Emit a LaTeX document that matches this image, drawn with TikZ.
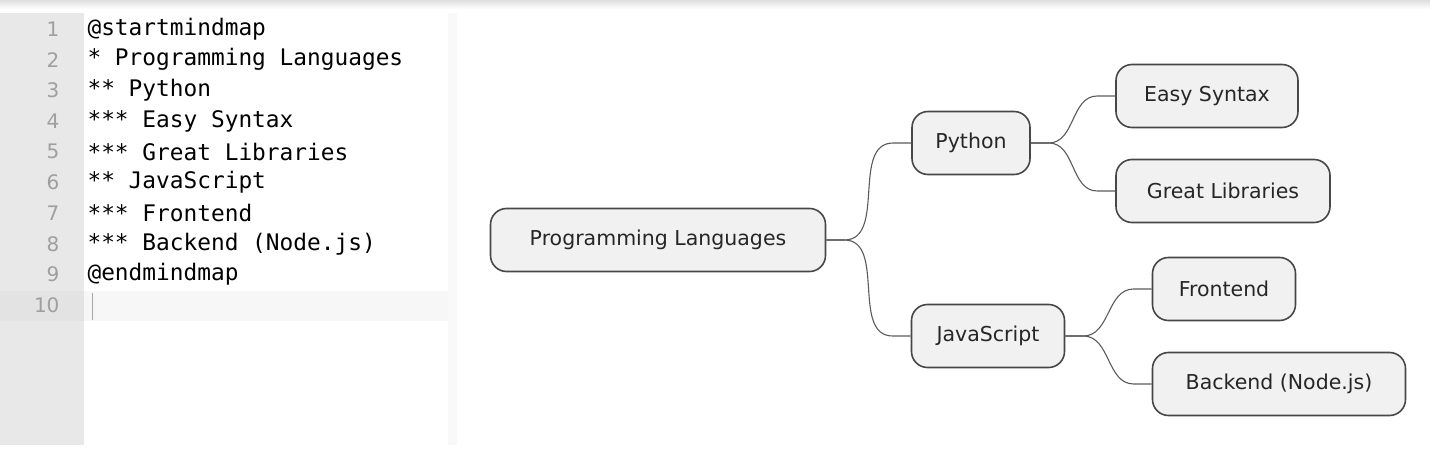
\documentclass[tikz,border=0pt]{standalone}
\usepackage{fontspec}
\setmainfont{DejaVu Sans}
\newfontfamily\codefont{DejaVu Sans Mono}
\usetikzlibrary{positioning,calc}
\definecolor{nodefill}{gray}{0.945}
\definecolor{nodeline}{gray}{0.28}
\definecolor{gutter}{gray}{0.91}
\tikzset{
  topic/.style={draw=nodeline, line width=1.6pt, fill=nodefill, rounded corners=16pt,
    minimum height=63pt, inner xsep=14pt, font=\fontsize{20.5}{24}\selectfont, text=black!85},
  branch/.style={draw=nodeline!90, line width=1.1pt},
  lineno/.style={anchor=east, text=gray!75, font=\fontsize{20}{24}\selectfont},
  codeline/.style={anchor=west, font=\codefont\fontsize{22.8}{26}\selectfont},
}
\newcommand{\branchto}[2]{%
  \draw[branch] (#1.east) -- ++(18,0) to[out=0,in=180] ($(#2.west)+(-18,0)$) -- (#2.west);
}
\begin{document}
\begin{tikzpicture}[x=1pt,y=-1pt]
  \useasboundingbox (0,0) rectangle (1430,449);
  % top shadow
  \shade[top color=gray!25, bottom color=white] (0,0) rectangle (1430,9);
  % editor
  \fill[gutter] (0,13) rectangle (84,445);
  \fill[gray!5] (448,13) rectangle (457,445);
  \fill[gray!6] (84,291) rectangle (448,321);
  \fill[gray!22] (0,291) rectangle (84,321);
  \foreach \n [count=\i] in {1,...,10}
    \node[lineno] (num\i) at (63,{29+30.7*(\i-1)}) {\n};
  \foreach \txt [count=\i] in {@startmindmap,* Programming Languages,** Python,*** Easy Syntax,*** Great Libraries,** JavaScript,*** Frontend,*** Backend (Node.js),@endmindmap}
    \node[codeline] (code\i) at (84,{29+30.7*(\i-1)}) {\txt};
  \draw[gray!70, line width=1pt] (92,293) -- (92,320);
  % mind map
  \node[topic, minimum width=335pt] (root) at (658,240) {Programming Languages};
  \node[topic, minimum width=118pt] (python) at (971,143) {Python};
  \node[topic, minimum width=153pt] (js) at (988,336) {JavaScript};
  \node[topic, minimum width=182pt] (easy) at (1207,96) {Easy Syntax};
  \node[topic, minimum width=214pt] (libs) at (1223,191) {Great Libraries};
  \node[topic, minimum width=143pt] (front) at (1224,289) {Frontend};
  \node[topic, minimum width=253pt] (back) at (1279,384) {Backend (Node.js)};
  \branchto{root}{python}
  \branchto{root}{js}
  \branchto{python}{easy}
  \branchto{python}{libs}
  \branchto{js}{front}
  \branchto{js}{back}
\end{tikzpicture}
\end{document}
